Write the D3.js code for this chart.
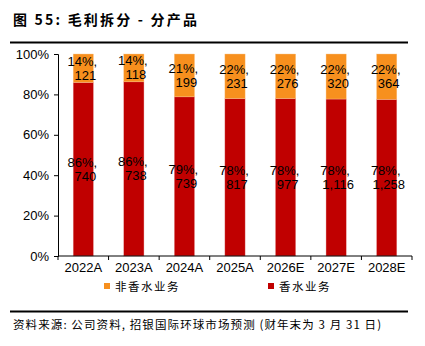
<!DOCTYPE html>
<html><head><meta charset="utf-8">
<script src="https://cdn.jsdelivr.net/npm/d3@7"></script>
<style>body{margin:0;background:#fff}svg{display:block}</style>
</head><body>
<script>
const categories = ["2022A","2023A","2024A","2025A","2026E","2027E","2028E"];
const perfumeShare = [86,86,79,78,78,78,78];
const perfumeValue = ["740","738","739","817","977","1,116","1,258"];
const otherShare = [14,14,21,22,22,22,22];
const otherValue = ["121","118","199","231","276","320","364"];
const perfumeRaw = [740,738,739,817,977,1116,1258];
const otherRaw = [121,118,199,231,276,320,364];
const yTicks = [0,20,40,60,80,100];
const seriesNames = ["非香水业务","香水业务"];

const W=425,H=346;
const svg=d3.select("body").append("svg").attr("width",W).attr("height",H);
const font="Liberation Sans, Arial, sans-serif";
const cjk="'Noto Sans CJK SC', sans-serif";

// title
svg.append("text").attr("x",13).attr("y",25).attr("font-family",cjk).attr("font-weight","bold")
  .attr("font-size",14).attr("letter-spacing",2.2).attr("fill","#000").text("图 55: 毛利拆分 - 分产品");
svg.append("line").attr("x1",10).attr("x2",408).attr("y1",42.5).attr("y2",42.5).attr("stroke","#000").attr("stroke-width",2);

const x=d3.scaleBand().domain(categories).range([58,412]).paddingInner(0.6).paddingOuter(0.3);
const y=d3.scaleLinear().domain([0,100]).range([256,54]);

const colors={other:"#F7901E",perfume:"#C00000"};

const data=categories.map((c,i)=>{
  const tot=perfumeRaw[i]+otherRaw[i];
  return {c, p:perfumeRaw[i]/tot*100, o:otherRaw[i]/tot*100, i};
});

const g=svg.append("g");
data.forEach(d=>{
  g.append("rect").attr("x",x(d.c)).attr("width",x.bandwidth())
   .attr("y",y(d.p)).attr("height",y(0)-y(d.p)).attr("fill",colors.perfume)
   .attr("stroke","#e8a0a0").attr("stroke-width",0.4);
  g.append("rect").attr("x",x(d.c)).attr("width",x.bandwidth())
   .attr("y",y(100)).attr("height",y(d.p)-y(100)).attr("fill",colors.other)
   .attr("stroke","#fbc890").attr("stroke-width",0.4);
});

// axes
const ya=d3.axisLeft(y).tickValues(yTicks).tickSize(4).tickFormat(d=>d+"%");
const yg=svg.append("g").attr("transform","translate(58,0)").call(ya);
yg.select(".domain").attr("stroke","#000");
yg.selectAll("text").attr("font-family",font).attr("font-size",13).attr("fill","#000").attr("x",-9);

const xg=svg.append("g").attr("transform","translate(0,256)");
xg.append("line").attr("x1",58).attr("x2",412).attr("stroke","#000");
const step=x.step();
d3.range(categories.length+1).forEach(k=>{
  const xx=58+k*step;
  xg.append("line").attr("x1",xx).attr("x2",xx).attr("y1",0).attr("y2",4).attr("stroke","#000");
});
xg.selectAll("text.xl").data(categories).join("text").attr("class","xl")
  .attr("x",d=>x(d)+x.bandwidth()/2).attr("y",16).attr("text-anchor","middle")
  .attr("font-family",font).attr("font-size",13).attr("fill","#000").text(d=>d);

// labels
function label(cx,cy,l1,l2){
  const t=g.append("text").attr("text-anchor","middle").attr("font-family",font).attr("font-size",13).attr("fill","#000");
  t.append("tspan").attr("x",cx-1).attr("y",cy-2.5).text(l1);
  t.append("tspan").attr("x",cx+2).attr("y",cy+11.5).text(l2);
}
data.forEach(d=>{
  const cx=x(d.c)+x.bandwidth()/2;
  label(cx,(y(100)+y(d.p))/2, otherShare[d.i]+"%,", otherValue[d.i]);
  label(cx,(y(d.p)+y(0))/2, perfumeShare[d.i]+"%,", perfumeValue[d.i]);
});

// legend
const lg=svg.append("g");
[[104,colors.other,seriesNames[0]],[268,colors.perfume,seriesNames[1]]].forEach(([lx,c,t])=>{
  lg.append("rect").attr("x",lx).attr("y",283).attr("width",6).attr("height",6).attr("fill",c);
  lg.append("text").attr("x",lx+11).attr("y",291).attr("font-family",cjk).attr("font-size",11.5)
    .attr("letter-spacing",1.5).attr("fill","#000").text(t);
});

svg.append("line").attr("x1",10).attr("x2",408).attr("y1",311.5).attr("y2",311.5).attr("stroke","#000").attr("stroke-width",2);
svg.append("text").attr("x",13).attr("y",329).attr("font-family",cjk).attr("font-size",11.5).attr("letter-spacing",1.1).attr("fill","#000")
  .text("资料来源: 公司资料, 招银国际环球市场预测 (财年末为 3 月 31 日)");
</script>
</body></html>
